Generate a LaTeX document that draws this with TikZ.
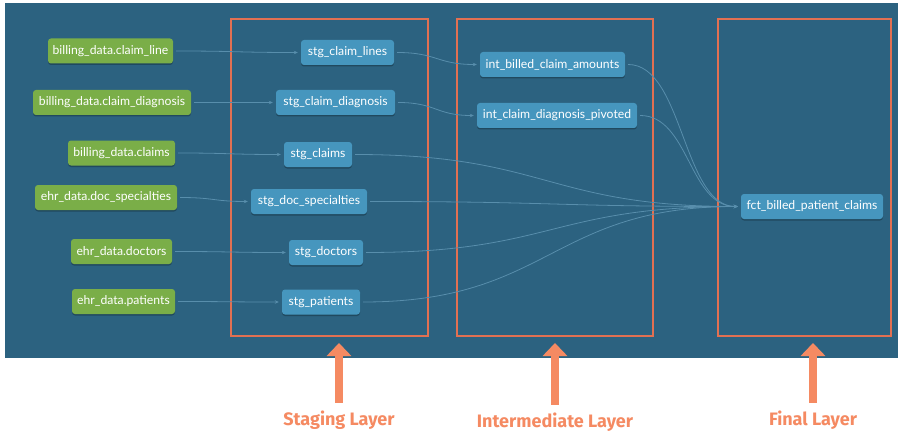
\documentclass[tikz,border=0pt]{standalone}
\usepackage{fontspec}
\setmainfont{Lato}
\newfontfamily\labfont{Fira Sans}
\usetikzlibrary{arrows.meta,shadows}
\definecolor{bg}{RGB}{44,98,128}
\definecolor{srcgreen}{RGB}{122,174,72}
\definecolor{mdlblue}{RGB}{70,150,190}
\definecolor{edgecol}{RGB}{88,142,172}
\definecolor{framecol}{RGB}{226,112,82}
\definecolor{arrcol}{RGB}{245,138,98}
\tikzset{
  boxbase/.style={rounded corners=3pt, text=white, font=\fontsize{12.2}{14}\selectfont,
    minimum height=25pt, inner sep=0pt, anchor=center,
    drop shadow={shadow xshift=0pt, shadow yshift=-1.5pt, fill=black, opacity=0.25}},
  src/.style={boxbase, fill=srcgreen},
  mdl/.style={boxbase, fill=mdlblue},
  edge/.style={draw=edgecol, line width=0.8pt, -{Stealth[length=4pt,width=3.5pt]}, shorten >=3pt, shorten <=3pt},
  layerframe/.style={draw=framecol, line width=1.2pt},
  uparrow/.style={draw=arrcol, line width=8pt, -{Triangle[width=24pt,length=13pt]}},
  laylabel/.style={text=arrcol, font=\labfont\bfseries\fontsize{18}{20}\selectfont, anchor=center, inner sep=0pt}
}
\begin{document}
\begin{tikzpicture}[x=1pt,y=-1pt]
\useasboundingbox (0,0) rectangle (915,441);
\fill[white] (0,0) rectangle (915,441);
\fill[bg] (5,3) rectangle (898,358);

% layer frames
\draw[layerframe] (231,19) rectangle (428,336);
\draw[layerframe] (457,19) rectangle (653,336);
\draw[layerframe] (718,19) rectangle (891,336);

% sources
\node[src, minimum width=125pt] (s1) at (110.5,51) {billing\_data.claim\_line};
\node[src, minimum width=158pt] (s2) at (112,102.5) {billing\_data.claim\_diagnosis};
\node[src, minimum width=107pt] (s3) at (121.5,153) {billing\_data.claims};
\node[src, minimum width=142pt] (s4) at (106,197.5) {ehr\_data.doc\_specialties};
\node[src, minimum width=101pt] (s5) at (121.5,251.5) {ehr\_data.doctors};
\node[src, minimum width=103pt] (s6) at (123.5,301.5) {ehr\_data.patients};

% staging
\node[mdl, minimum width=93pt] (t1) at (347.5,52.5) {stg\_claim\_lines};
\node[mdl, minimum width=119pt] (t2) at (335.5,102.5) {stg\_claim\_diagnosis};
\node[mdl, minimum width=68pt] (t3) at (318,154.5) {stg\_claims};
\node[mdl, minimum width=116pt] (t4) at (309,201.5) {stg\_doc\_specialties};
\node[mdl, minimum width=74pt] (t5) at (326,252.5) {stg\_doctors};
\node[mdl, minimum width=78pt] (t6) at (321,302) {stg\_patients};

% intermediate
\node[mdl, minimum width=145pt] (i1) at (552.5,64.5) {int\_billed\_claim\_amounts};
\node[mdl, minimum width=160pt] (i2) at (557,115.5) {int\_claim\_diagnosis\_pivoted};

% final
\node[mdl, minimum width=142pt] (f) at (812,206.5) {fct\_billed\_patient\_claims};

% edges
\draw[edge] (s1.east) .. controls +(64,0) and +(-64,0) .. (t1.west);
\draw[edge] (s2.east) .. controls +(42,0) and +(-42,0) .. (t2.west);
\draw[edge] (s3.east) .. controls +(54,0) and +(-54,0) .. (t3.west);
\draw[edge] (s4.east) .. controls +(37,0) and +(-37,0) .. (t4.west);
\draw[edge] (s5.east) .. controls +(58,0) and +(-58,0) .. (t5.west);
\draw[edge] (s6.east) .. controls +(53,0) and +(-53,0) .. (t6.west);
\draw[edge] (t1.east) .. controls +(43,0) and +(-43,0) .. (i1.west);
\draw[edge] (t2.east) .. controls +(41,0) and +(-41,0) .. (i2.west);
\draw[edge] (t3.east) .. controls +(194,0) and +(-194,0) .. (f.west);
\draw[edge] (t4.east) .. controls +(187,0) and +(-187,0) .. (f.west);
\draw[edge] (t5.east) .. controls +(189,0) and +(-189,0) .. (f.west);
\draw[edge] (t6.east) .. controls +(190,0) and +(-190,0) .. (f.west);
\draw[edge] (i1.east) .. controls +(58,0) and +(-58,0) .. (f.west);
\draw[edge] (i2.east) .. controls +(52,0) and +(-52,0) .. (f.west);

% layer labels and pointers
\node[laylabel] (l1) at (339,420) {Staging Layer};
\node[laylabel] (l2) at (555,422) {Intermediate Layer};
\node[laylabel] (l3) at (813,420) {Final Layer};
\coordinate (p1) at (339,343);
\coordinate (p2) at (555,343);
\coordinate (p3) at (813,343);
\draw[uparrow] ([yshift=8pt]l1.north) -- (p1);
\draw[uparrow] ([yshift=8pt]l2.north) -- (p2);
\draw[uparrow] ([yshift=8pt]l3.north) -- (p3);
\end{tikzpicture}
\end{document}
